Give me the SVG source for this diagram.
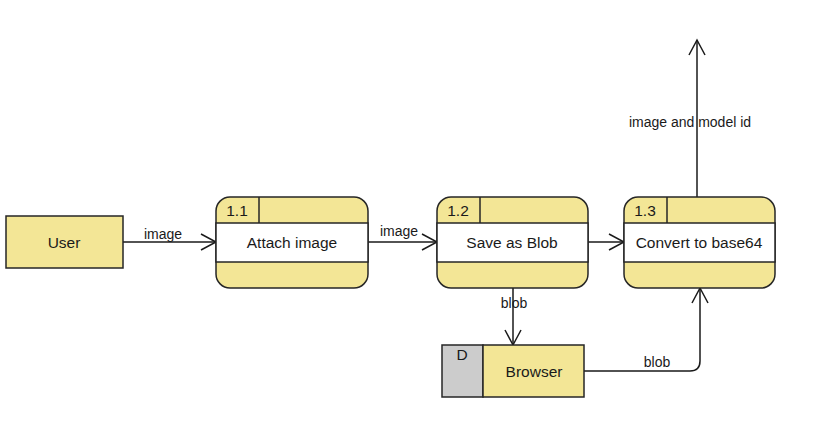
<svg xmlns="http://www.w3.org/2000/svg" width="814" height="430" viewBox="0 0 814 430">
<defs>
<style>
text{font-family:"Liberation Sans",Arial,sans-serif;font-size:14px;fill:#1a1a1a}
.n{font-size:15.5px}
.y{fill:#f3e696;stroke:#262626;stroke-width:1.5}
.w{fill:#fff;stroke:#262626;stroke-width:1.5}
.g{fill:#cccccc;stroke:#262626;stroke-width:1.5}
.ln{fill:none;stroke:#262626;stroke-width:1.5}
.c{fill:none;stroke:#1a1a1a;stroke-width:1.5;marker-end:url(#a)}
.m{text-anchor:middle}
</style>
<marker id="a" markerWidth="18" markerHeight="18" viewBox="0 0 18 18" refX="16" refY="9" orient="auto" markerUnits="userSpaceOnUse">
<path d="M1,1 L16,9 L1,17" fill="none" stroke="#1a1a1a" stroke-width="1.5"/>
</marker>
</defs>
<rect width="814" height="430" fill="#fff"/>
<g id="connectors">
<path class="c" d="M123,242 H216"/>
<path class="c" d="M368,242 H437"/>
<path class="c" d="M588,242 H624"/>
<path class="c" d="M513,288 V345"/>
<path class="c" d="M584,371 H690 Q700,371 700,361 V288"/>
<path class="c" d="M697,197 V40"/>
<text x="163" y="239" class="m">image</text>
<text x="399" y="236" class="m">image</text>
<text x="514" y="308" class="m">blob</text>
<text x="657" y="367" class="m">blob</text>
<text x="690" y="127" class="m">image and model id</text>
</g>
<g id="user">
<rect class="y" x="6" y="216" width="117" height="52"/>
<text x="64" y="248" class="m n">User</text>
</g>
<g id="p11">
<rect class="y" x="216" y="197" width="152" height="91" rx="14"/>
<rect class="w" x="216" y="223" width="152" height="39"/>
<line class="ln" x1="259" y1="197" x2="259" y2="223"/>
<text x="237" y="216" class="m n">1.1</text>
<text x="292" y="248" class="m n">Attach image</text>
</g>
<g id="p12">
<rect class="y" x="437" y="197" width="151" height="91" rx="14"/>
<rect class="w" x="437" y="223" width="151" height="39"/>
<line class="ln" x1="480" y1="197" x2="480" y2="223"/>
<text x="458" y="216" class="m n">1.2</text>
<text x="512" y="248" class="m n">Save as Blob</text>
</g>
<g id="p13">
<rect class="y" x="624" y="197" width="151" height="91" rx="14"/>
<rect class="w" x="624" y="223" width="151" height="39"/>
<line class="ln" x1="667" y1="197" x2="667" y2="223"/>
<text x="645" y="216" class="m n">1.3</text>
<text x="699" y="248" class="m n">Convert to base64</text>
</g>
<g id="browser">
<rect class="g" x="442" y="345" width="41" height="52"/>
<rect class="y" x="483" y="345" width="101" height="52"/>
<text x="462" y="360" class="m n">D</text>
<text x="534" y="377" class="m n">Browser</text>
</g>
</svg>
